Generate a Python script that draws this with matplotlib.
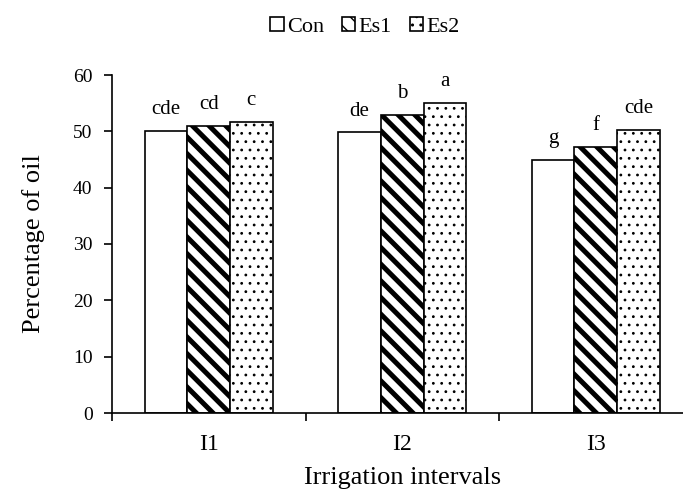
import matplotlib
matplotlib.use("Agg")
import matplotlib.pyplot as plt
import numpy as np

groups = ["I1", "I2", "I3"]
series = ["Con", "Es1", "Es2"]
con = [50.1, 49.8, 44.9]
es1 = [50.9, 52.9, 47.3]
es2 = [51.7, 55.0, 50.3]
letters_con = ["cde", "de", "g"]
letters_es1 = ["cd", "b", "f"]
letters_es2 = ["c", "a", "cde"]

plt.rcParams['font.family'] = ['Liberation Serif', 'DejaVu Serif']

fig = plt.figure(figsize=(6.83, 4.91), dpi=100)
W, H = 683, 491
left, right, top, bottom = 112, 692.5, 75, 413
ax = fig.add_axes([left / W, 1 - bottom / H, (right - left) / W, (bottom - top) / H])

x = np.arange(len(groups))
w = 0.22
hatches = [None, '\\\\', '..']
hlw = [1.0, 3.6, 0.8]
data = [con, es1, es2]
labs = [letters_con, letters_es1, letters_es2]
for i, (vals, h, lw, lab, name) in enumerate(zip(data, hatches, hlw, labs, series)):
    with plt.rc_context({'hatch.linewidth': lw}):
        bars = ax.bar(x + (i - 1) * w, vals, w, color='white', edgecolor='black',
                      linewidth=1.2, hatch=h, label=name)
    for b, t in zip(bars, lab):
        ax.text(b.get_x() + b.get_width() / 2, b.get_height() + 3.0, t,
                ha='center', va='baseline', fontsize=15)

ax.set_xlim(-0.5, 2.5)
ax.set_ylim(0, 60)
ax.set_yticks(np.arange(0, 61, 10))
ax.set_xticks([-0.5, 0.5, 1.5, 2.5])
ax.set_xticklabels([])
ax.set_xticks(x, minor=True)
ax.set_xticklabels(groups, minor=True)
ax.tick_params(axis='x', which='minor', length=0, pad=15, labelsize=17)
ax.tick_params(axis='x', which='major', length=6, width=1.2, direction='out')
ax.tick_params(axis='y', length=6, width=1.2, direction='out', labelsize=14, pad=8)
for s in ['top', 'right']:
    ax.spines[s].set_visible(False)
for s in ['left', 'bottom']:
    ax.spines[s].set_linewidth(1.2)

ax.set_ylabel("Percentage of oil", fontsize=19, labelpad=20)
ax.set_xlabel("Irrigation intervals", fontsize=19, labelpad=9)

leg = fig.legend(loc='center', bbox_to_anchor=(365 / W, 1 - 27 / H), ncol=3, frameon=False,
                 fontsize=16, handlelength=0.6, handleheight=0.6, handletextpad=0.15,
                 columnspacing=0.8, borderpad=0)
fig.savefig("out.png", dpi=100)
